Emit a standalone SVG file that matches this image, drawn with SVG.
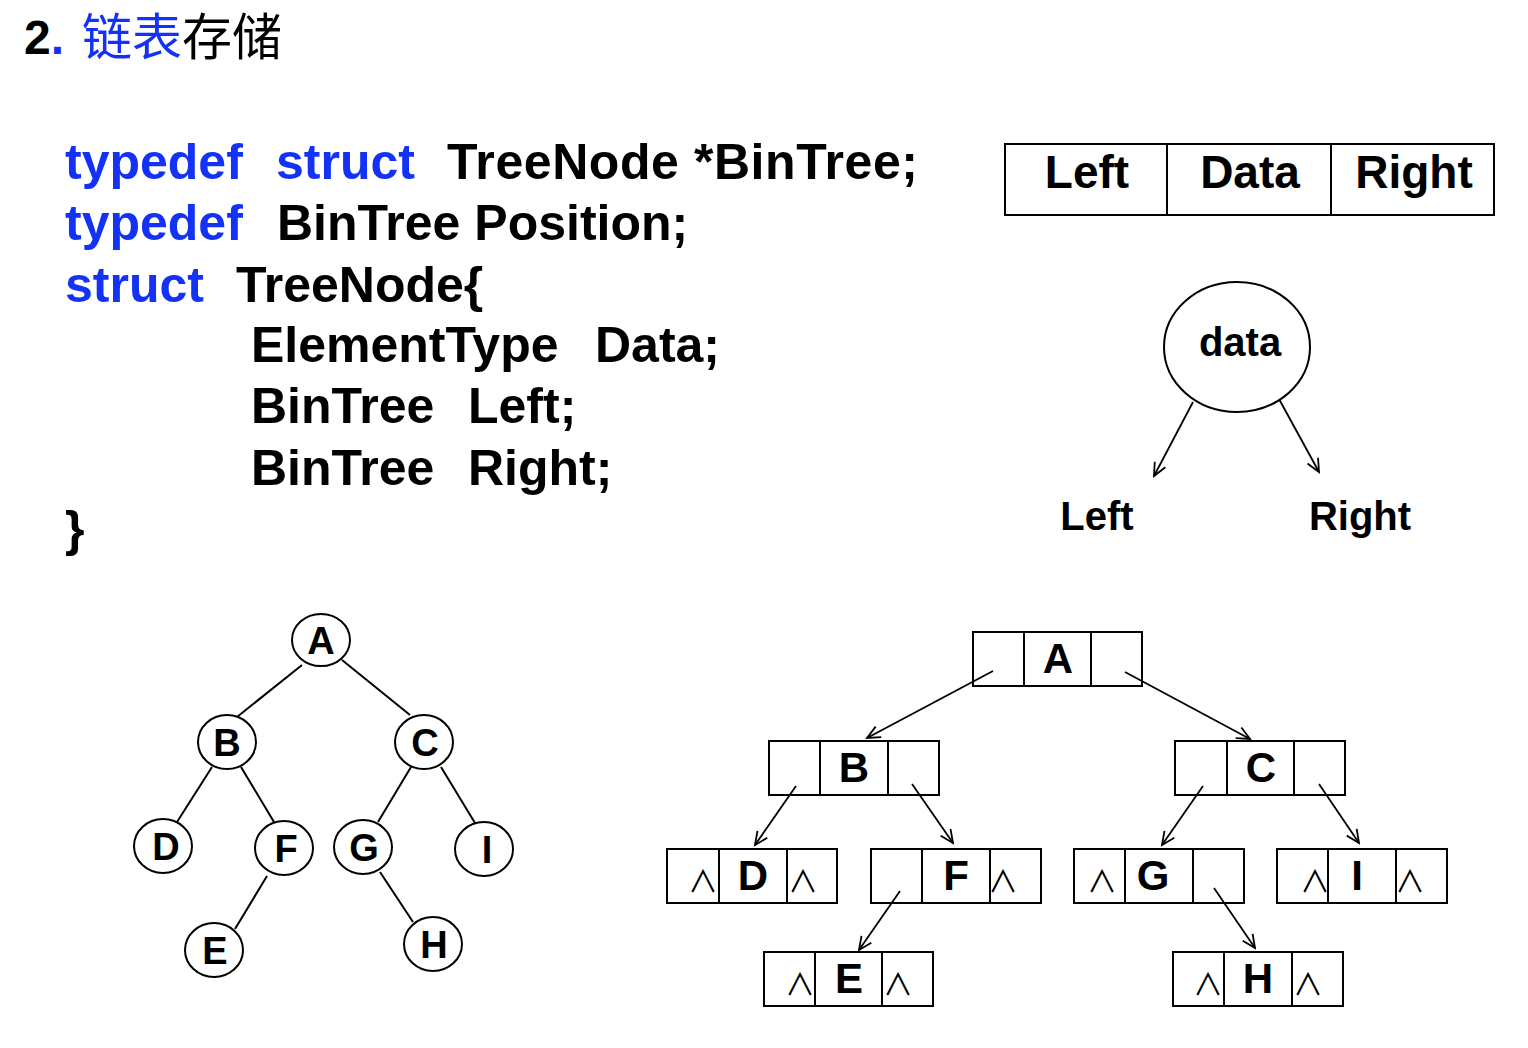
<svg xmlns="http://www.w3.org/2000/svg" width="1528" height="1048" viewBox="0 0 1528 1048">
<style>
text{font-family:"Liberation Sans",Arial,"Noto Sans CJK SC",sans-serif;font-weight:bold;fill:#000}
.blue{fill:#1432f5}
.cjk{font-family:"Noto Sans CJK SC",sans-serif;font-weight:normal}
.code{font-size:50px}
.box{fill:#fff;stroke:#000;stroke-width:2}
.div{stroke:#000;stroke-width:2}
.circ{fill:#fff;stroke:#000;stroke-width:2}
.edge{stroke:#000;stroke-width:2;fill:none}
.arr{stroke:#000;stroke-width:1.8;fill:none;marker-end:url(#ah)}
.lt{font-size:38px;text-anchor:middle}
.bt{font-size:42px;text-anchor:middle}
.nil{font-family:"Noto Sans CJK SC",sans-serif;font-weight:normal;font-size:30px;text-anchor:middle}
</style>
<defs>
<marker id="ah" markerUnits="userSpaceOnUse" markerWidth="20" markerHeight="20" refX="14" refY="7" orient="auto">
<path d="M1,1 L14,7 L1,13" fill="none" stroke="#000" stroke-width="1.8"/>
</marker>
</defs>
<rect width="1528" height="1048" fill="#fff"/>

<g id="title">
<text x="24" y="54" font-size="48">2<tspan class="blue">.</tspan></text>
<text x="82" y="55" font-size="50" class="cjk"><tspan class="blue">链表</tspan>存储</text>
</g>

<g id="code" class="code">
<text x="65" y="179" class="code"><tspan class="blue">typedef</tspan><tspan x="276" class="blue">struct</tspan><tspan x="447" textLength="471">TreeNode *BinTree;</tspan></text>
<text x="65" y="240" class="code"><tspan class="blue">typedef</tspan><tspan x="277">BinTree Position;</tspan></text>
<text x="65" y="302" class="code"><tspan class="blue">struct</tspan><tspan x="236">TreeNode{</tspan></text>
<text x="251" y="362" class="code">ElementType<tspan x="595">Data;</tspan></text>
<text x="251" y="423" class="code">BinTree<tspan x="468">Left;</tspan></text>
<text x="251" y="485" class="code">BinTree<tspan x="468">Right;</tspan></text>
<text x="65" y="546" class="code">}</text>
</g>

<g id="layout">
<rect class="box" x="1005" y="144" width="489" height="71"/>
<line class="div" x1="1167" y1="144" x2="1167" y2="215"/>
<line class="div" x1="1331" y1="144" x2="1331" y2="215"/>
<text x="1087" y="188" font-size="46" text-anchor="middle">Left</text>
<text x="1250" y="188" font-size="46" text-anchor="middle">Data</text>
<text x="1414" y="188" font-size="46" text-anchor="middle">Right</text>
</g>

<g id="datanode">
<ellipse class="circ" cx="1237" cy="347" rx="73" ry="65"/>
<text x="1240" y="356" font-size="40" text-anchor="middle">data</text>
</g>
<g id="leftlabel"><text x="1097" y="530" font-size="40" text-anchor="middle">Left</text></g>
<g id="rightlabel"><text x="1360" y="530" font-size="40" text-anchor="middle">Right</text></g>

<g id="tree-edges">
<line class="edge" x1="302" y1="665" x2="237" y2="717"/>
<line class="edge" x1="342" y1="660" x2="410" y2="715"/>
<line class="edge" x1="212" y1="767" x2="177" y2="822"/>
<line class="edge" x1="241" y1="767" x2="274" y2="822"/>
<line class="edge" x1="411" y1="767" x2="378" y2="822"/>
<line class="edge" x1="441" y1="767" x2="475" y2="823"/>
<line class="edge" x1="267" y1="876" x2="235" y2="929"/>
<line class="edge" x1="380" y1="872" x2="413" y2="922"/>
</g>

<g id="tA"><ellipse class="circ" cx="321" cy="640" rx="29" ry="26"/><text class="lt" x="321" y="654">A</text></g>
<g id="tB"><ellipse class="circ" cx="227" cy="742" rx="29" ry="27"/><text class="lt" x="227" y="756">B</text></g>
<g id="tC"><ellipse class="circ" cx="424" cy="742" rx="29" ry="27"/><text class="lt" x="425" y="756">C</text></g>
<g id="tD"><ellipse class="circ" cx="163" cy="846" rx="29" ry="27"/><text class="lt" x="166" y="860">D</text></g>
<g id="tF"><ellipse class="circ" cx="284" cy="848" rx="29" ry="27"/><text class="lt" x="286" y="862">F</text></g>
<g id="tG"><ellipse class="circ" cx="363" cy="847" rx="29" ry="27"/><text class="lt" x="364" y="861">G</text></g>
<g id="tI"><ellipse class="circ" cx="484" cy="849" rx="29" ry="27"/><text class="lt" x="487" y="863">I</text></g>
<g id="tE"><ellipse class="circ" cx="214" cy="950" rx="29" ry="27"/><text class="lt" x="215" y="964">E</text></g>
<g id="tH"><ellipse class="circ" cx="433" cy="944" rx="29" ry="27"/><text class="lt" x="434" y="958">H</text></g>

<g id="nA"><rect class="box" x="973" y="632" width="169" height="54"/><line class="div" x1="1024" y1="632" x2="1024" y2="686"/><line class="div" x1="1091" y1="632" x2="1091" y2="686"/><text class="bt" x="1058" y="673">A</text></g>
<g id="nB"><rect class="box" x="769" y="741" width="170" height="54"/><line class="div" x1="820" y1="741" x2="820" y2="795"/><line class="div" x1="888" y1="741" x2="888" y2="795"/><text class="bt" x="854" y="782">B</text></g>
<g id="nC"><rect class="box" x="1175" y="741" width="170" height="54"/><line class="div" x1="1227" y1="741" x2="1227" y2="795"/><line class="div" x1="1294" y1="741" x2="1294" y2="795"/><text class="bt" x="1261" y="782">C</text></g>
<g id="nD"><rect class="box" x="667" y="849" width="170" height="54"/><line class="div" x1="719" y1="849" x2="719" y2="903"/><line class="div" x1="787" y1="849" x2="787" y2="903"/><text class="bt" x="753" y="890">D</text><text class="nil" x="703" y="892">∧</text><text class="nil" x="803" y="892">∧</text></g>
<g id="nF"><rect class="box" x="871" y="849" width="170" height="54"/><line class="div" x1="922" y1="849" x2="922" y2="903"/><line class="div" x1="990" y1="849" x2="990" y2="903"/><text class="bt" x="956" y="890">F</text><text class="nil" x="1003" y="892">∧</text></g>
<g id="nG"><rect class="box" x="1074" y="849" width="170" height="54"/><line class="div" x1="1125" y1="849" x2="1125" y2="903"/><line class="div" x1="1193" y1="849" x2="1193" y2="903"/><text class="bt" x="1153" y="890">G</text><text class="nil" x="1102" y="892">∧</text></g>
<g id="nI"><rect class="box" x="1277" y="849" width="170" height="54"/><line class="div" x1="1328" y1="849" x2="1328" y2="903"/><line class="div" x1="1396" y1="849" x2="1396" y2="903"/><text class="bt" x="1357" y="890">I</text><text class="nil" x="1315" y="892">∧</text><text class="nil" x="1410" y="892">∧</text></g>
<g id="nE"><rect class="box" x="764" y="952" width="169" height="54"/><line class="div" x1="815" y1="952" x2="815" y2="1006"/><line class="div" x1="882" y1="952" x2="882" y2="1006"/><text class="bt" x="849" y="993">E</text><text class="nil" x="800" y="995">∧</text><text class="nil" x="898" y="995">∧</text></g>
<g id="nH"><rect class="box" x="1173" y="952" width="170" height="54"/><line class="div" x1="1224" y1="952" x2="1224" y2="1006"/><line class="div" x1="1292" y1="952" x2="1292" y2="1006"/><text class="bt" x="1258" y="993">H</text><text class="nil" x="1208" y="995">∧</text><text class="nil" x="1308" y="995">∧</text></g>

<g id="connectors">
<line class="arr" x1="1193" y1="402" x2="1154" y2="476"/>
<line class="arr" x1="1279" y1="399" x2="1319" y2="472"/>
<line class="arr" x1="993" y1="671" x2="867" y2="738"/>
<line class="arr" x1="1125" y1="672" x2="1250" y2="739"/>
<line class="arr" x1="796" y1="786" x2="755" y2="845"/>
<line class="arr" x1="912" y1="784" x2="953" y2="843"/>
<line class="arr" x1="900" y1="891" x2="859" y2="950"/>
<line class="arr" x1="1203" y1="786" x2="1162" y2="845"/>
<line class="arr" x1="1319" y1="784" x2="1359" y2="843"/>
<line class="arr" x1="1214" y1="888" x2="1255" y2="948"/>
</g>
</svg>
